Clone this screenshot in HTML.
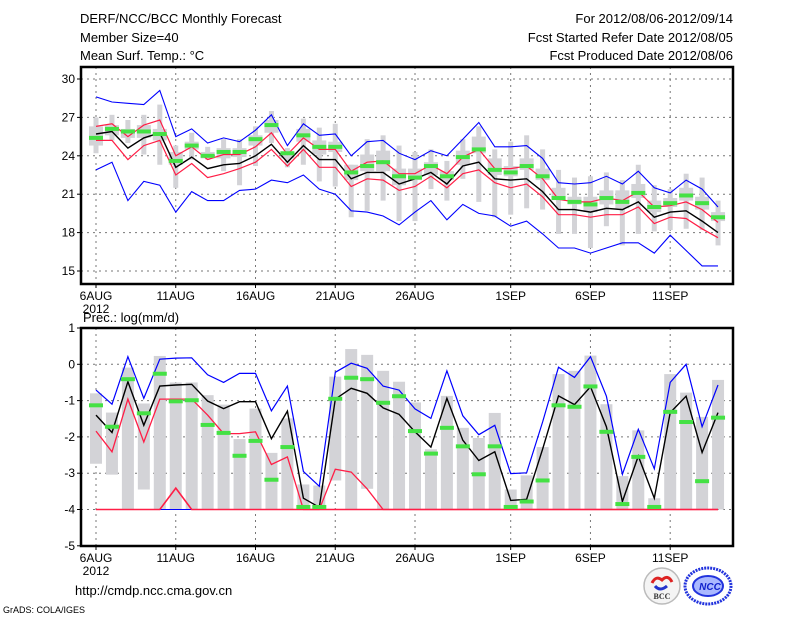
<!DOCTYPE html>
<html><head><meta charset="utf-8">
<style>
html,body{margin:0;padding:0;background:#fff;}
svg{display:block;font-family:"Liberation Sans","DejaVu Sans",sans-serif;}
</style></head>
<body>
<svg id="c" width="800" height="618" viewBox="0 0 800 618" xmlns="http://www.w3.org/2000/svg">
<g font-size="13" fill="#000">
<text x="80" y="23">DERF/NCC/BCC Monthly Forecast</text>
<text x="80" y="42">Member Size=40</text>
<text x="80" y="60">Mean Surf. Temp.: °C</text>
</g>
<g font-size="13" fill="#000" text-anchor="end">
<text x="733" y="23">For 2012/08/06-2012/09/14</text>
<text x="733" y="42">Fcst Started Refer Date 2012/08/05</text>
<text x="733" y="60">Fcst Produced Date 2012/08/06</text>
</g>
<g id="topPanel"></g>
<g id="botPanel"></g>
<text x="83" y="322" font-size="13">Prec.: log(mm/d)</text>
<text x="75" y="595" font-size="13">http://cmdp.ncc.cma.gov.cn</text>
<text x="3" y="613" font-size="9">GrADS: COLA/IGES</text>
<g>
<circle cx="662" cy="586" r="18" fill="#f4f4f4" stroke="#bbb" stroke-width="1.5"/>
<path d="M652 583 q4 -8 10 -3 q6 -6 10 2" fill="none" stroke="#d22" stroke-width="3"/>
<path d="M655 586 q5 6 12 0" fill="none" stroke="#23c" stroke-width="3"/>
<text x="662" y="599" font-size="8" text-anchor="middle" font-family="Liberation Serif,serif" font-weight="bold" fill="#333">BCC</text>
</g>
<g>
<ellipse cx="708" cy="586" rx="23" ry="18" fill="none" stroke="#23d" stroke-width="3" stroke-dasharray="2 1"/>
<ellipse cx="708" cy="586" rx="15" ry="10" fill="#aab8ff" stroke="#23d" stroke-width="2"/>
<text x="710" y="590" font-size="10" text-anchor="middle" font-weight="bold" font-style="italic" fill="#12c">NCC</text>
</g>
</svg>
<script>
// ---- temperature data (°C) ----
var days = 40;
var dateLabels = ["6AUG","11AUG","16AUG","21AUG","26AUG","1SEP","6SEP","11SEP"];
var dateLabelDays = [0,5,10,15,20,26,31,36];
var tTicks = [30,27,24,21,18,15];
var tBlueUp = [28.6,28.2,28.1,28.0,29.1,25.5,26.1,25.0,25.4,25.1,26.0,27.2,24.8,26.5,25.6,25.7,24.0,25.1,25.2,24.2,23.7,24.4,24.0,25.3,26.6,24.7,24.7,24.8,23.8,21.9,21.8,21.9,22.4,21.8,22.8,21.5,21.1,22.1,21.4,20.0];
var tBlueLo = [22.9,23.5,20.5,22.0,21.7,19.6,21.2,20.5,20.5,21.3,21.4,22.1,21.9,22.5,21.4,21.0,19.7,19.6,19.3,18.6,19.6,20.5,19.0,20.2,19.5,19.3,18.5,18.9,17.9,16.8,16.8,16.4,16.8,17.2,17.2,16.4,17.8,16.6,15.4,15.4];
var tMean = [25.7,25.9,24.6,25.4,25.8,23.1,23.9,23.0,23.3,23.4,24.0,24.9,23.5,24.8,23.7,23.7,22.2,22.7,22.7,21.8,22.2,22.7,21.8,23.2,23.5,22.2,22.1,22.2,21.2,19.8,19.8,19.6,19.9,19.8,20.4,19.2,19.6,19.7,18.9,18.0];
var tRedUp = [26.3,26.5,25.5,26.4,26.8,24.0,24.7,23.7,24.1,24.1,24.7,25.8,24.1,25.4,24.5,24.5,22.8,23.5,23.6,22.6,22.6,23.3,22.6,23.9,24.5,23.0,23.0,23.2,22.2,20.6,20.4,20.4,20.7,20.5,21.2,20.0,20.1,20.4,19.8,18.8];
var tRedLo = [25.2,25.2,23.7,24.8,25.2,22.5,23.4,22.3,22.6,23.0,23.5,24.5,23.2,24.5,23.1,23.1,21.6,22.2,22.1,21.3,21.6,22.4,21.5,22.6,22.9,21.9,21.5,21.8,20.8,19.4,19.4,19.2,19.4,19.4,20.0,18.7,19.2,19.1,18.3,17.6];
var tGreen = [25.4,26.1,25.9,25.9,25.7,23.6,24.8,24.0,24.3,24.3,25.3,26.4,24.2,25.6,24.7,24.7,22.7,23.2,23.5,22.4,22.3,23.2,22.4,23.9,24.5,22.9,22.7,23.2,22.4,20.7,20.4,20.2,20.7,20.4,21.1,20.0,20.3,20.9,20.3,19.2];
var tRangeMax = [27.0,27.2,26.8,27.2,28.0,24.8,25.8,24.7,25.3,25.3,26.3,27.5,24.6,26.9,26.2,26.5,23.3,25.3,25.6,24.8,24.3,24.5,23.6,25.3,26.3,24.5,25.1,25.6,24.5,22.9,22.3,22.4,22.7,22.1,23.3,21.7,21.4,22.6,22.3,20.5];
var tRangeMin = [24.2,25.2,25.0,24.1,23.3,21.5,23.7,23.7,22.8,21.7,23.2,25.0,23.1,23.3,22.0,21.6,19.2,19.7,20.5,18.9,18.9,21.4,20.5,22.2,20.4,19.2,19.4,19.9,19.8,17.9,17.9,16.8,18.5,17.0,17.9,18.1,18.2,18.3,18.2,17.0];
var tBoxTop = [26.3,26.4,26.1,26.4,26.1,24.3,25.1,24.3,24.6,24.6,25.6,26.8,24.3,26.1,25.2,25.1,23.3,24.1,24.4,23.0,23.0,23.5,22.8,24.4,25.5,23.8,23.2,23.8,23.0,21.5,20.8,20.8,21.3,21.3,21.8,20.5,20.7,21.5,20.8,19.6];
var tBoxBot = [24.8,25.6,25.4,25.4,25.2,23.3,24.5,23.8,23.8,23.9,24.8,25.8,23.8,25.1,24.1,24.3,22.1,22.8,22.8,21.7,22.1,22.5,22.1,23.3,24.2,22.5,22.4,22.9,22.1,20.7,20.2,19.6,20.2,19.9,20.7,19.6,20.0,20.5,19.8,18.9];
// ---- precipitation data (log mm/d) ----
var pTicks = [1,0,-1,-2,-3,-4,-5];
var pBlueUp = [-0.71,-1.10,0.21,-0.94,0.14,0.17,0.18,-0.29,-0.50,-0.25,-0.25,-1.28,-0.60,-2.95,-3.36,-0.22,0.03,-0.11,-0.60,-0.71,-1.23,-1.49,-0.18,-1.42,-1.94,-1.68,-3.01,-2.99,-1.59,-0.08,-0.36,0.21,-0.88,-3.03,-1.79,-2.88,-0.50,0.0,-1.72,-0.57];
var pBlueLo = [-4,-4,-4,-4,-4,-4,-4,-4,-4,-4,-4,-4,-4,-4,-4,-4,-4,-4,-4,-4,-4,-4,-4,-4,-4,-4,-4,-4,-4,-4,-4,-4,-4,-4,-4,-4,-4,-4,-4,-4];
var pMean = [-1.40,-1.88,-0.48,-1.68,-0.60,-0.57,-0.55,-1.01,-1.22,-1.03,-1.03,-2.05,-1.29,-3.69,-3.94,-0.96,-0.66,-0.80,-1.20,-1.38,-1.86,-2.28,-0.94,-2.09,-2.65,-2.41,-3.75,-3.72,-2.34,-0.87,-1.11,-0.62,-1.72,-3.78,-2.53,-3.69,-1.33,-0.88,-2.43,-1.33];
var pRedUp = [-1.84,-2.41,-0.96,-2.14,-0.96,-0.96,-0.96,-1.40,-1.91,-1.91,-1.86,-2.76,-2.55,-4,-4,-2.89,-2.97,-3.43,-4,-4,-4,-4,-4,-4,-4,-4,-4,-4,-4,-4,-4,-4,-4,-4,-4,-4,-4,-4,-4,-4];
var pRedLo = [-4,-4,-4,-4,-4,-3.41,-4,-4,-4,-4,-4,-4,-4,-4,-4,-4,-4,-4,-4,-4,-4,-4,-4,-4,-4,-4,-4,-4,-4,-4,-4,-4,-4,-4,-4,-4,-4,-4,-4,-4];
var pGreen = [-1.13,-1.72,-0.41,-1.35,-0.26,-1.02,-0.99,-1.67,-1.89,-2.52,-2.11,-3.18,-2.28,-3.93,-3.93,-0.95,-0.37,-0.41,-1.06,-0.88,-1.84,-2.46,-1.75,-2.26,-3.03,-2.26,-3.93,-3.78,-3.20,-1.13,-1.17,-0.61,-1.86,-3.85,-2.55,-3.93,-1.31,-1.59,-3.22,-1.47];
var pBarTop = [-0.80,-1.33,-0.09,-1.08,0.23,-0.50,-0.50,-0.85,-1.11,-2.06,-1.22,-2.44,-1.49,-3.31,-3.34,-0.34,0.42,0.26,-0.18,-0.48,-1.05,-2.34,-0.87,-1.75,-2.03,-1.34,-3.45,-3.06,-2.28,-0.27,-0.18,0.24,-1.10,-3.08,-1.82,-3.69,-0.27,-0.78,-1.45,-0.43];
var pBarBot = [-2.74,-3.04,-4,-3.45,-4,-4,-4,-4,-4,-4,-4,-4,-4,-4,-4,-3.20,-4,-3.43,-4,-4,-4,-4,-4,-4,-4,-4,-4,-4,-4,-4,-4,-4,-4,-4,-4,-4,-4,-4,-4,-4];

var NS = "http://www.w3.org/2000/svg";
function mk(parent, tag, attrs) {
  var e = document.createElementNS(NS, tag);
  for (var k in attrs) e.setAttribute(k, attrs[k]);
  parent.appendChild(e);
  return e;
}
function xAt(d) { return 96 + d * 15.95; }

function panel(g, x0, x1, yTop, yBot, ticks, yOfV, prefix) {
  var i;
  for (i = 0; i < ticks.length; i++) {
    var y = yOfV(ticks[i]);
    var gl = mk(g, "line", {x1: x0, x2: x1, y1: y, y2: y, stroke: "#777", "stroke-width": 1, "stroke-dasharray": "2 4"});
    
    
    var tk = mk(g, "line", {x1: x0 - 4, x2: x0, y1: y, y2: y, stroke: "#000", "stroke-width": 1});
    
    
    var t = mk(g, "text", {x: x0 - 6, y: y + 4, "font-size": 12, "text-anchor": "end"});
    t.textContent = ticks[i];
    
    
  }
  for (i = 0; i < dateLabelDays.length; i++) {
    var x = xAt(dateLabelDays[i]);
    var vl = mk(g, "line", {x1: x, x2: x, y1: yTop, y2: yBot, stroke: "#777", "stroke-width": 1, "stroke-dasharray": "2 4"});
    
    
    var xt = mk(g, "line", {x1: x, x2: x, y1: yBot, y2: yBot + 4, stroke: "#000", "stroke-width": 1});
    
    
    var lt = mk(g, "text", {x: x, y: yBot + 16, "font-size": 12, "text-anchor": "middle"});
    lt.textContent = dateLabels[i];
    
    
  }
  var yr = mk(g, "text", {x: 96, y: yBot + 29, "font-size": 12, "text-anchor": "middle"});
  yr.textContent = "2012";
  
  
}

function series(g, arr, yOfV, color, width, name) {
  var pts = [];
  for (var i = 0; i < arr.length; i++) pts.push(xAt(i).toFixed(1) + "," + yOfV(arr[i]).toFixed(1));
  var p = mk(g, "polyline", {points: pts.join(" "), fill: "none", stroke: color, "stroke-width": width});
  
  
}
function frame(g, x0, x1, yTop, yBot, name) {
  var r = mk(g, "rect", {x: x0, y: yTop, width: x1 - x0, height: yBot - yTop, fill: "none", stroke: "#000", "stroke-width": 2.5});
  
  
}

// ---- top panel ----
var topG = document.getElementById("topPanel");
function yT(v) { return 79 + (30 - v) * 12.8; }
panel(topG, 81, 733, 67, 284, tTicks, yT, "temp");
for (var d = 0; d < days; d++) {
  var x = xAt(d);
  var rr = mk(topG, "rect", {x: x - 2.5, y: yT(tRangeMax[d]), width: 5, height: yT(tRangeMin[d]) - yT(tRangeMax[d]), fill: "#d3d3d7"});
  
  
  var bx = mk(topG, "rect", {x: x - 7, y: yT(tBoxTop[d]), width: 14, height: yT(tBoxBot[d]) - yT(tBoxTop[d]), fill: "#d3d3d7"});
  
  
}
series(topG, tBlueUp, yT, "#0000ff", 1.1, "temp-max-line");
series(topG, tBlueLo, yT, "#0000ff", 1.1, "temp-min-line");
series(topG, tRedUp, yT, "#ff1e46", 1.2, "temp-upper-line");
series(topG, tRedLo, yT, "#ff1e46", 1.2, "temp-lower-line");
series(topG, tMean, yT, "#000", 1.4, "temp-mean-line");
for (d = 0; d < days; d++) {
  var gm = mk(topG, "rect", {x: xAt(d) - 7, y: yT(tGreen[d]) - 2, width: 14, height: 4, fill: "#44e144"});
  
  
}
frame(topG, 81, 733, 67, 284, "temp-plot-frame");

// ---- bottom panel ----
var botG = document.getElementById("botPanel");
function yP(v) { return 364.3 - v * 36.3; }
panel(botG, 81, 733, 328, 546, pTicks, yP, "prec");
for (d = 0; d < days; d++) {
  var pb = mk(botG, "rect", {x: xAt(d) - 6, y: yP(pBarTop[d]), width: 12, height: yP(pBarBot[d]) - yP(pBarTop[d]), fill: "#d3d3d7"});
  
  
}
series(botG, pBlueLo, yP, "#0000ff", 1, "prec-min-line");
series(botG, pRedLo, yP, "#ff1e46", 1.6, "prec-lower-line");
series(botG, pRedUp, yP, "#ff1e46", 1.3, "prec-upper-line");
series(botG, pBlueUp, yP, "#0000ff", 1.2, "prec-max-line");
series(botG, pMean, yP, "#000", 1.4, "prec-mean-line");
for (d = 0; d < days; d++) {
  var pg = mk(botG, "rect", {x: xAt(d) - 7, y: yP(pGreen[d]) - 2, width: 14, height: 4, fill: "#44e144"});
  
  
}
frame(botG, 81, 733, 328, 546, "prec-plot-frame");
</script>
</body></html>
